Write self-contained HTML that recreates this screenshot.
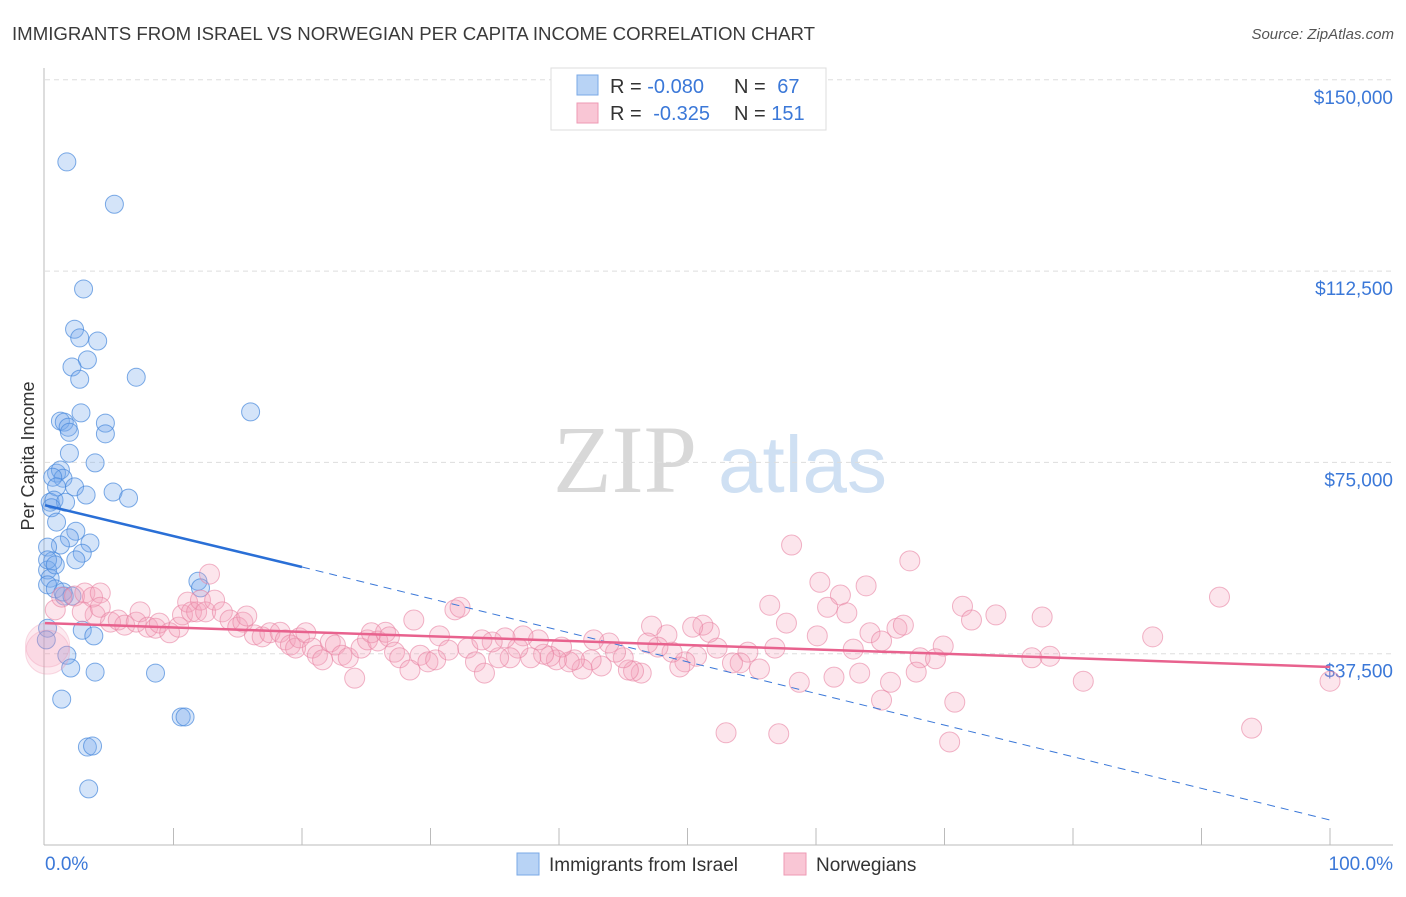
<!DOCTYPE html>
<html><head><meta charset="utf-8"><style>
body{margin:0;background:#fff;font-family:"Liberation Sans",sans-serif}
svg text{font-family:"Liberation Sans",sans-serif}
</style></head><body>
<svg id="chart" width="1406" height="892" viewBox="0 0 1406 892" xmlns="http://www.w3.org/2000/svg">
<text x="12" y="40" font-size="18" fill="#3a3a3a" textLength="803" lengthAdjust="spacingAndGlyphs">IMMIGRANTS FROM ISRAEL VS NORWEGIAN PER CAPITA INCOME CORRELATION CHART</text>
<text x="1394" y="39" font-size="15" fill="#555" font-style="italic" text-anchor="end">Source: ZipAtlas.com</text>
<g>
<text x="553" y="492" font-size="96" fill="#d8d8d8" font-family="Liberation Serif" style="font-family:'Liberation Serif',serif">ZIP</text>
<text x="718" y="492" font-size="80" fill="#cfe0f3">atlas</text>
</g>
<g id="grid"></g>
<g id="axes"></g>
<text transform="translate(34,456) rotate(-90)" font-size="18" fill="#333" text-anchor="middle">Per Capita Income</text>
<g id="blue-pts"></g>
<g id="pink-pts"></g>
<g id="trends"></g>
<g>
<rect x="551" y="68" width="275" height="62" fill="#fff" stroke="#ddd"/>
<rect x="577" y="75" width="21" height="20" fill="#b8d3f5" stroke="#7aa8e6"/>
<rect x="577" y="103" width="21" height="20" fill="#f9c6d5" stroke="#ee9ab4"/>
<text x="610" y="93" font-size="20" fill="#333">R = <tspan fill="#3b78d8">-0.080</tspan></text>
<text x="734" y="93" font-size="20" fill="#333">N = <tspan fill="#3b78d8" dx="6">67</tspan></text>
<text x="610" y="120" font-size="20" fill="#333">R = <tspan fill="#3b78d8" dx="6">-0.325</tspan></text>
<text x="734" y="120" font-size="20" fill="#333">N = <tspan fill="#3b78d8">151</tspan></text>
</g>
<g>
<rect x="517" y="853" width="22" height="22" fill="#b8d3f5" stroke="#7aa8e6"/>
<text x="549" y="871" font-size="19" fill="#333">Immigrants from Israel</text>
<rect x="784" y="853" width="22" height="22" fill="#f9c6d5" stroke="#ee9ab4"/>
<text x="816" y="871" font-size="19" fill="#333">Norwegians</text>
</g>
</svg>
<script>
const yTicks=[37500,75000,112500,150000];
const yTickLabels=["$37,500","$75,000","$112,500","$150,000"];
const xTickCount=10;
const xLabels=["0.0%","100.0%"];
const blueX=[1.7,5.4,3.0,2.3,2.7,4.1,3.3,2.1,2.7,7.1,16.0,2.8,1.2,1.5,1.8,1.9,4.7,4.7,1.9,3.9,0.9,1.2,1.4,0.6,0.9,2.3,3.2,5.3,6.5,0.4,0.7,1.6,0.5,0.9,2.4,3.5,1.9,1.2,0.2,0.6,2.9,2.4,0.2,0.4,0.2,0.8,1.5,1.4,11.9,12.1,0.2,2.9,3.8,1.7,2.0,3.9,8.6,1.3,10.6,10.9,3.3,3.7,3.4,2.1,0.2,0.8,0.1];
const blueY=[133.9,125.6,109.0,101.1,99.4,98.8,95.1,93.7,91.3,91.7,84.9,84.7,83.1,82.9,81.9,80.9,82.7,80.6,76.8,74.9,72.9,73.5,71.9,72.1,70.2,70.2,68.6,69.2,68.0,67.2,67.6,67.2,66.1,63.3,61.5,59.2,60.2,58.8,58.4,55.7,57.2,55.9,53.9,52.3,51.0,50.2,48.8,49.6,51.7,50.4,42.5,42.1,41.0,37.2,34.7,33.9,33.7,28.6,25.1,25.1,19.2,19.4,11.0,48.8,55.9,54.9,40.2];
const pinkX=[0.2,0.2,0.8,1.3,2.3,3.1,3.7,4.3,3.9,2.9,4.3,5.1,5.7,6.2,7.1,7.4,8.0,8.6,8.9,9.7,10.4,10.7,11.1,11.4,11.8,12.1,12.8,12.5,13.2,13.8,14.4,15.0,15.4,15.7,16.3,16.9,17.5,18.3,18.7,19.1,19.5,19.8,20.3,20.8,21.2,21.6,22.2,22.6,23.1,23.6,24.1,24.6,25.1,25.4,25.9,26.5,26.8,27.2,27.6,28.4,28.7,29.2,29.8,30.4,30.7,31.4,31.9,32.3,32.9,33.5,
58.1,67.3,60.3,61.9,63.9,60.9,62.4,56.4,57.7,60.1,64.2,65.1,66.3,66.8,56.8,62.9,68.1,58.7,61.4,63.4,65.8,65.1,67.8,53.0,57.1,55.6,54.7,54.1,53.5,52.3,50.7,51.7,51.2,50.4,49.8,49.4,48.8,48.4,47.7,47.2,46.9,46.4,45.8,45.4,45.0,44.4,43.9,43.3,42.7,42.5,41.8,41.2,40.8,40.2,39.8,39.3,38.8,38.4,37.8,37.2,36.8,36.2,35.8,35.3,34.8,34.2,34.0,
71.4,72.1,74.0,77.6,69.9,69.3,76.8,78.2,80.8,86.2,91.4,70.8,70.4,93.9,100];
const pinkY=[39.2,37.8,46.1,48.6,48.8,49.4,48.6,49.4,45.1,45.7,46.6,43.7,44.1,43.1,43.7,45.7,42.7,42.5,43.5,41.6,42.7,45.1,47.6,45.7,45.7,48.0,53.1,45.7,48.0,45.7,44.1,42.7,43.7,44.9,41.2,40.8,41.6,41.7,40.2,39.2,38.6,40.6,41.6,38.6,37.2,36.3,39.8,39.2,37.2,36.7,32.7,38.6,40.2,41.6,40.0,41.7,40.8,37.8,36.7,34.3,44.1,37.2,35.9,36.3,41.0,38.2,46.1,46.6,38.6,35.9,
58.8,55.7,51.5,49.0,50.8,46.6,45.5,47.0,43.5,41.0,41.6,40.0,42.5,43.1,38.6,38.4,36.7,31.9,32.9,33.7,31.9,28.4,33.9,22.0,21.8,34.5,37.8,35.7,35.7,38.6,37.0,41.7,43.1,42.7,35.9,34.9,37.8,41.2,38.8,42.9,39.6,33.7,34.1,34.3,36.7,37.8,39.6,35.1,40.2,36.3,34.5,36.3,35.9,38.8,36.3,37.0,37.4,40.2,36.7,41.0,38.6,36.7,40.6,36.7,39.8,33.7,40.2,
46.8,44.1,45.1,44.7,39.0,36.5,36.7,37.0,32.1,40.8,48.6,28.0,20.2,22.9,32.1];
const blueTrend=[66.6,54.5,4.9]; // value at 0%, 20%, 100% (thousands)
const pinkTrend=[43.5,34.9]; // at 0%, 100%

const NS="http://www.w3.org/2000/svg";
const X0=45,X1=1330,YB=845,PXPER=191.3/37500;
const xs=v=>X0+(X1-X0)*v/100;
const ys=v=>YB-v*PXPER;
function mk(tag,attrs,parent){const e=document.createElementNS(NS,tag);for(const k in attrs)e.setAttribute(k,attrs[k]);parent.appendChild(e);return e;}
const grid=document.getElementById('grid'),axes=document.getElementById('axes');
yTicks.forEach((t,i)=>{
  const l=mk('line',{x1:45,x2:1393,y1:ys(t),y2:ys(t),stroke:'#ddd','stroke-dasharray':'5,4'},grid);
  
  
  const tx=mk('text',{x:1393,y:ys(t)+24,'font-size':19,fill:'#3b78d8','text-anchor':'end'},axes);
  tx.textContent=yTickLabels[i];
  
  
});
mk('line',{x1:44,x2:44,y1:68,y2:845,stroke:'#bbb'},axes);
mk('line',{x1:44,x2:1393,y1:845,y2:845,stroke:'#bbb'},axes);
for(let k=1;k<=xTickCount;k++){
  const t=mk('line',{x1:xs(k*10),x2:xs(k*10),y1:828,y2:845,stroke:'#bbb'},axes);
  
  
}
const xl0=mk('text',{x:45,y:870,'font-size':19,fill:'#3b78d8'},axes);xl0.textContent=xLabels[0];


const xl1=mk('text',{x:1393,y:870,'font-size':19,fill:'#3b78d8','text-anchor':'end'},axes);xl1.textContent=xLabels[1];



const bg=document.getElementById('blue-pts'),pg=document.getElementById('pink-pts');
pinkX.forEach((x,i)=>{
  const r=(i<2)?22:10;
  const c=mk('circle',{cx:xs(x),cy:ys(pinkY[i]*1000),r:r,fill:(i<2)?'rgba(245,150,180,0.2)':'rgba(245,160,188,0.28)',stroke:(i<2)?'rgba(235,140,170,0.3)':'rgba(232,130,162,0.6)','stroke-width':1},pg);
  
  
});
blueX.forEach((x,i)=>{
  const c=mk('circle',{cx:xs(x),cy:ys(blueY[i]*1000),r:9,fill:'rgba(120,170,235,0.32)',stroke:'rgba(70,135,220,0.7)','stroke-width':1},bg);
  
  
});
const tg=document.getElementById('trends');
const bd=mk('line',{x1:xs(20),y1:ys(blueTrend[1]*1000),x2:xs(100),y2:ys(blueTrend[2]*1000),stroke:'#3b78d8','stroke-width':1,'stroke-dasharray':'8,6'},tg);


const pt=mk('line',{x1:xs(0),y1:ys(pinkTrend[0]*1000),x2:xs(100),y2:ys(pinkTrend[1]*1000),stroke:'#e8628e','stroke-width':2.5},tg);


const bs=mk('line',{x1:xs(0),y1:ys(blueTrend[0]*1000),x2:xs(20),y2:ys(blueTrend[1]*1000),stroke:'#2a6fd6','stroke-width':2.5},tg);


</script>
</body></html>
